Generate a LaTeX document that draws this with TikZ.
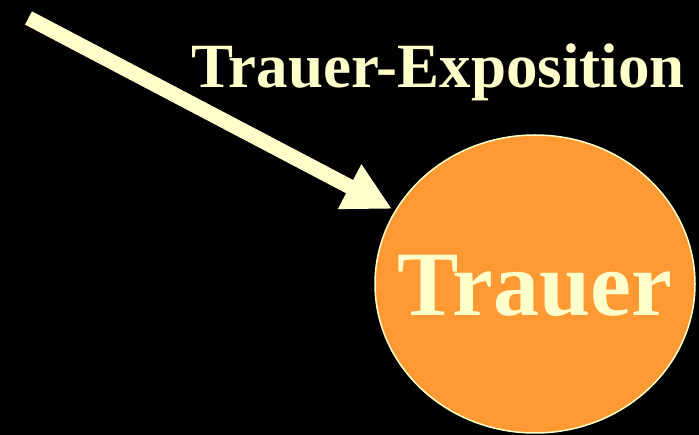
\documentclass[tikz,border=0pt]{standalone}
\usepackage{fontspec}
\setmainfont{Liberation Serif}
\usepackage{tikz}
\usetikzlibrary{positioning}
\usetikzlibrary{arrows.meta}
\usetikzlibrary{shapes}
\definecolor{cream}{RGB}{255,255,204}
\definecolor{grieforange}{RGB}{255,153,51}
\tikzset{main node/.style={ellipse,fill=grieforange,draw=cream,line width=1.5pt,minimum width=320pt,minimum height=298pt,inner sep=0pt,outer sep=0pt},
word/.style={text=cream,font=\bfseries\fontsize{63}{63}\selectfont,inner sep=0pt}}

\begin{document}
\begin{tikzpicture}[x=1pt,y=-1pt,>={Triangle[length=48pt,width=47pt]}]
	\fill[black] (0,0) rectangle (699,435);
	\node[main node] (trauer) at (535,284) {};
	\node[word, font=\bfseries\fontsize{92}{92}\selectfont] (name) at ([yshift=-1.5pt]trauer.center) {Trauer};
	\node[word, anchor=base west] (expo) at (191,88) {Trauer-Exposition};
	\coordinate (start) at (28.5,18);

	\path[draw,cream,line width=15pt]
	(start) edge [->,shorten >=4pt] (trauer);
\end{tikzpicture}
\end{document}
